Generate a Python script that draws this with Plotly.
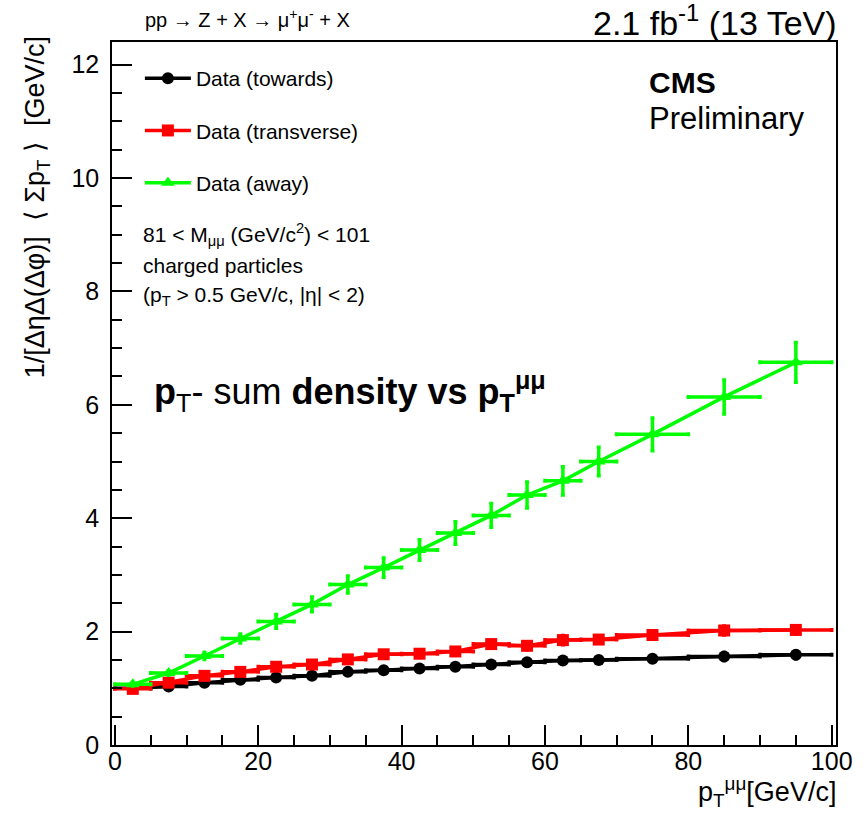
import plotly.graph_objects as go

# ---- data ----
pt_mumu = [2.5, 7.5, 12.5, 17.5, 22.5, 27.5, 32.5, 37.5, 42.5, 47.5, 52.5, 57.5, 62.5, 67.5, 75, 85, 95]
pt_halfwidth = [2.5] * 14 + [5, 5, 5]

towards = [1.00, 1.03, 1.10, 1.15, 1.19, 1.22, 1.29, 1.32, 1.35, 1.38, 1.42, 1.46, 1.49, 1.50, 1.52, 1.56, 1.59]
towards_err = [0.02, 0.02, 0.02, 0.02, 0.03, 0.03, 0.03, 0.03, 0.03, 0.03, 0.04, 0.06, 0.06, 0.04, 0.04, 0.07, 0.07]

transverse = [0.99, 1.10, 1.22, 1.29, 1.38, 1.42, 1.51, 1.60, 1.61, 1.65, 1.78, 1.75, 1.85, 1.86, 1.94, 2.02, 2.03]
transverse_err = [0.02, 0.02, 0.02, 0.03, 0.03, 0.03, 0.04, 0.06, 0.04, 0.05, 0.06, 0.07, 0.08, 0.06, 0.07, 0.08, 0.07]

away = [1.07, 1.27, 1.57, 1.88, 2.18, 2.48, 2.83, 3.13, 3.44, 3.74, 4.05, 4.41, 4.66, 5.00, 5.48, 6.14, 6.75]
away_err = [0.03, 0.04, 0.06, 0.08, 0.12, 0.13, 0.15, 0.17, 0.18, 0.20, 0.21, 0.23, 0.25, 0.25, 0.29, 0.30, 0.35]

x_ticks = [0, 20, 40, 60, 80, 100]
y_ticks = [0, 2, 4, 6, 8, 10, 12]

FONT = "Liberation Sans, Arial, Helvetica, sans-serif"

series = [
    ("Data (towards)", towards, towards_err, "#000000", "circle"),
    ("Data (transverse)", transverse, transverse_err, "#ff0000", "square"),
    ("Data (away)", away, away_err, "#00ff00", "triangle-up"),
]

fig = go.Figure()
for name, vals, errs, col, sym in series:
    fig.add_trace(go.Scatter(
        x=pt_mumu, y=vals, name=name, legendgroup=name,
        mode="lines+markers",
        line=dict(color=col, width=3.5),
        marker=dict(color=col, symbol=sym, size=12),
        error_y=dict(type="data", array=errs, color=col, thickness=3.5, width=2),
        error_x=dict(type="data", array=pt_halfwidth, color=col, thickness=3.5, width=2),
    ))

# plot frame in px: left 112, right 839, top 42, bottom 745
L, R, T, B = 112, 839, 42, 745
W, H = R - L, B - T


def px(x):
    return (x - L) / W


def py(y):
    return (B - y) / H


NB = "\u00a0"
annots = [
    dict(x=px(143), y=py(18), text="pp → Z + X → μ<sup>+</sup>μ<sup>-</sup> + X",
         xanchor="left", yanchor="middle", font=dict(size=20)),
    dict(x=px(842), y=py(21), text="2.1 fb<sup>-1</sup> (13 TeV)",
         xanchor="right", yanchor="middle", font=dict(size=34)),
    dict(x=px(649), y=py(83), text="<b>CMS</b>",
         xanchor="left", yanchor="middle", font=dict(size=30)),
    dict(x=px(649), y=py(118), text="Preliminary",
         xanchor="left", yanchor="middle", font=dict(size=31)),
    dict(x=px(141), y=py(235), text="81 < M<sub>μμ</sub> (GeV/c<sup>2</sup>) < 101",
         xanchor="left", yanchor="middle", font=dict(size=21)),
    dict(x=px(141), y=py(265), text="charged particles",
         xanchor="left", yanchor="middle", font=dict(size=21)),
    dict(x=px(141), y=py(296), text="(p<sub>T</sub> > 0.5 GeV/c, |η| < 2)",
         xanchor="left", yanchor="middle", font=dict(size=21)),
    dict(x=px(152), y=py(391),
         text="<b>p</b><sub>T</sub>- sum <b>density vs p</b><sub><b>T</b></sub><sup><b>μμ</b></sup>",
         xanchor="left", yanchor="middle",
         font=dict(size=36, family="Liberation Sans Narrow, Liberation Sans, Arial")),
    dict(x=px(37), y=py(207),
         text="1/[ΔηΔ(Δφ)]" + NB * 2 + "⟨" + NB + "Σp<sub>T</sub>" + NB + "⟩" + NB * 2 + "[GeV/c]",
         textangle=-90, xanchor="center", yanchor="middle", font=dict(size=27)),
    dict(x=px(841), y=py(792), text="p<sub>T</sub><sup>μμ</sup>[GeV/c]",
         xanchor="right", yanchor="middle", font=dict(size=27)),
]
for a in annots:
    a.update(xref="paper", yref="paper", showarrow=False)
    a["font"].setdefault("family", FONT)
    a["font"]["color"] = "black"

axis_common = dict(
    ticks="inside", ticklen=20, tickwidth=1.5, tickcolor="black",
    showline=True, linecolor="black", linewidth=1.5, mirror=True,
    showgrid=False, zeroline=False,
    tickfont=dict(size=25, family=FONT, color="black"),
)

fig.update_layout(
    width=865, height=818,
    margin=dict(l=L, r=865 - R, t=T, b=818 - B),
    paper_bgcolor="white", plot_bgcolor="white",
    font=dict(family=FONT, color="black"),
    xaxis=dict(range=[-0.4, 100.6], tickvals=x_ticks,
               minor=dict(dtick=5, ticklen=10, ticks="inside", tickcolor="black", tickwidth=1.5),
               ticklabelstandoff=-7, **axis_common),
    yaxis=dict(range=[0, 12.4], tickvals=y_ticks,
               minor=dict(dtick=0.5, ticklen=10, ticks="inside", tickcolor="black", tickwidth=1.5),
               ticklabelstandoff=6, **axis_common),
    legend=dict(x=px(140), y=py(58), xanchor="left", yanchor="top",
                font=dict(size=21, family=FONT, color="black"),
                tracegroupgap=22, bgcolor="rgba(0,0,0,0)", itemwidth=46),
    annotations=annots,
    showlegend=True,
)

fig.write_html("out.html")
